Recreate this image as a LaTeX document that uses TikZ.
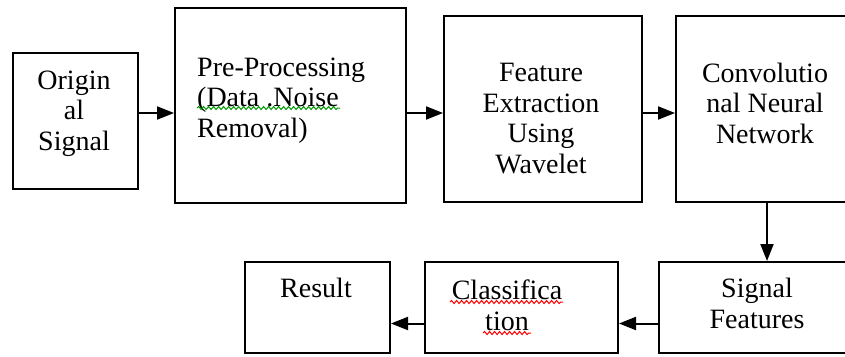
\documentclass[tikz,border=0pt]{standalone}
\usepackage{fontspec}
\setmainfont{Liberation Serif}
\usetikzlibrary{arrows.meta,decorations.pathmorphing}

\begin{document}
\begin{tikzpicture}[x=1pt,y=-1pt,
    blk/.style={draw,line width=2pt,inner sep=0pt},
    txt/.style={inner sep=0pt,anchor=base,align=center,font=\rmfamily\fontsize{28}{30.5}\selectfont},
    arr/.style={line width=2pt,-{Triangle[length=17pt,width=13pt]}},
    wavy/.style={decorate,decoration={snake,segment length=5pt,amplitude=1.5pt},line width=1pt}]
  \useasboundingbox (0,0) rectangle (845,356);
  % boxes, top row
  \node[blk,minimum width=125pt,minimum height=136pt] (orig) at (75.5,121) {};
  \node[blk,minimum width=231pt,minimum height=195pt] (pre) at (290.5,105.5) {};
  \node[blk,minimum width=198pt,minimum height=186pt] (feat) at (543,109) {};
  \node[blk,minimum width=182pt,minimum height=186pt] (cnn) at (767,109) {};
  % boxes, bottom row
  \node[blk,minimum width=199pt,minimum height=91pt] (sig) at (758.5,307.5) {};
  \node[blk,minimum width=193pt,minimum height=91pt] (cls) at (521.5,307.5) {};
  \node[blk,minimum width=145pt,minimum height=91pt] (res) at (317.5,307.5) {};
  % texts (anchored at the last line)
  \node[txt] (orig-t) at (74,150) {Origin\\al\\Signal};
  \node[txt,anchor=base west,align=left] (pre-t) at (197,137) {Pre-Processing\\(Data .Noise\\Removal)};
  \node[txt] (feat-t) at (541,173) {Feature\\Extraction\\Using\\Wavelet};
  \node[txt] (cnn-t) at (765,143) {Convolutio\\nal Neural\\Network};
  \node[txt] (sig-t) at (757,328) {Signal\\Features};
  \node[txt] (cls-t) at (507,330) {Classifica\\tion};
  \node[txt] (res-t) at (316,297) {Result};
  % spell marks
  \draw[wavy,green!60!black] (197,108) -- (340,108);
  \draw[wavy,red] (450,302) -- (563,302);
  \draw[wavy,red] (483,333) -- (531,333);
  % arrows
  \coordinate (up) at (0,113);
  \coordinate (low) at (0,323.5);
  \path[arr]
    (orig.east |- up) edge (pre.west |- up)
    (pre.east |- up) edge (feat.west |- up)
    (feat.east |- up) edge (cnn.west |- up)
    (cnn.south) edge (cnn.south |- sig.north)
    (sig.west |- low) edge (cls.east |- low)
    (cls.west |- low) edge (res.east |- low);
\end{tikzpicture}
\end{document}
